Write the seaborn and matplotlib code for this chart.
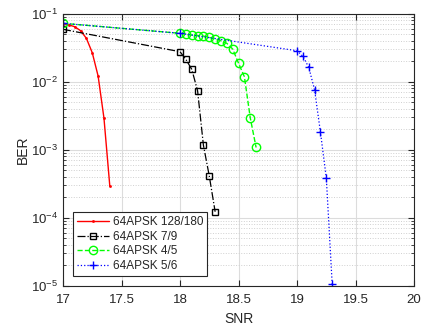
import matplotlib
matplotlib.use("Agg")
import matplotlib.pyplot as plt
import seaborn as sns
import pandas as pd
import numpy as np
from matplotlib.ticker import LogLocator, NullFormatter

sns.set_style("ticks")
plt.rcParams['font.family'] = ['Liberation Sans', 'DejaVu Sans']
plt.rcParams['mathtext.fontset'] = 'custom'
plt.rcParams['mathtext.rm'] = 'Liberation Sans'
plt.rcParams['mathtext.it'] = 'Liberation Sans'

# data
snr_128_180 = [17.0, 17.05, 17.1, 17.15, 17.2, 17.25, 17.3, 17.35, 17.4]
ber_128_180 = [0.070, 0.068, 0.064, 0.056, 0.0432, 0.0266, 0.0121, 0.00292, 0.000293]

snr_7_9 = [17.0, 18.0, 18.05, 18.1, 18.15, 18.2, 18.25, 18.3]
ber_7_9 = [0.0586, 0.0275, 0.0212, 0.0152, 0.00735, 0.00116, 0.000411, 0.000123]

snr_4_5 = [17.0, 18.0, 18.05, 18.1, 18.15, 18.2, 18.25, 18.3, 18.35, 18.4, 18.45,
           18.5, 18.55, 18.6, 18.65]
ber_4_5 = [0.0718, 0.0512, 0.0495, 0.0483, 0.0472, 0.0467, 0.0447, 0.0422, 0.0398,
           0.0365, 0.0301, 0.0186, 0.0118, 0.00295, 0.00108]

snr_5_6 = [17.0, 18.0, 19.0, 19.05, 19.1, 19.15, 19.2, 19.25, 19.3]
ber_5_6 = [0.0718, 0.0512, 0.0284, 0.0235, 0.0162, 0.00753, 0.0018, 0.000384, 0.0000108]

labels = ["64APSK 128/180", "64APSK 7/9", "64APSK 4/5", "64APSK 5/6"]
x_ticks = [17, 17.5, 18, 18.5, 19, 19.5, 20]
x_ticklabels = ["17", "17.5", "18", "18.5", "19", "19.5", "20"]

series = [
    (snr_128_180, ber_128_180, labels[0], "-",
     dict(color="#ff0000", marker=".", markersize=3, markeredgecolor="#ff0000",
          markerfacecolor="#ff0000", markeredgewidth=0.5, lw=1.0)),
    (snr_7_9, ber_7_9, labels[1], "-.",
     dict(color="#000000", marker="s", markersize=5, markerfacecolor="none",
          markeredgecolor="black", markeredgewidth=1.0, lw=0.9)),
    (snr_4_5, ber_4_5, labels[2], "--",
     dict(color="#00ff00", marker="o", markersize=6, markerfacecolor="none",
          markeredgecolor="#00ff00", markeredgewidth=1.0, lw=1.0)),
    (snr_5_6, ber_5_6, labels[3], ":",
     dict(color="#0000ff", marker="+", markersize=6, markeredgecolor="#0000ff",
          markeredgewidth=1.0, lw=0.9)),
]

fig = plt.figure(figsize=(4.3, 3.32), dpi=100)
ax = fig.add_axes([0.1465, 0.1386, 0.8165, 0.8207])

for xs, ys, lab, ls, kw in series:
    df = pd.DataFrame({"SNR": xs, "BER": ys})
    sns.lineplot(data=df, x="SNR", y="BER", ax=ax, label=lab, sort=False,
                 estimator=None, **kw)
    ax.lines[-1].set_linestyle(ls)

ax.set_yscale("log")
ax.set_xlim(17, 20)
ax.set_ylim(1e-5, 1e-1)
ax.set_xticks(x_ticks)
ax.set_xticklabels(x_ticklabels)
ax.yaxis.set_major_locator(LogLocator(base=10, numticks=10))
ax.yaxis.set_minor_locator(LogLocator(base=10, subs=np.arange(2, 10), numticks=50))
ax.yaxis.set_minor_formatter(NullFormatter())

ax.grid(True, which="major", color="#dcdcdc", linestyle="-", linewidth=0.8)
ax.grid(True, which="minor", axis="y", color="#d0d0d0", linestyle=":", linewidth=0.7)
ax.set_axisbelow(True)

for s in ax.spines.values():
    s.set_visible(True)
    s.set_color("#262626")
    s.set_linewidth(0.8)

ax.tick_params(which="both", direction="in", top=True, right=True, colors="#262626",
               labelsize=9.5, labelcolor="#262626")
ax.tick_params(which="major", length=4)
ax.tick_params(which="minor", length=2)
ax.tick_params(axis="x", pad=6)

ax.set_xlabel("SNR", fontsize=10, color="#262626", labelpad=4)
ax.set_ylabel("BER", fontsize=10, color="#262626", labelpad=1)

leg = ax.legend(loc="lower left", bbox_to_anchor=(0.0285, 0.0367), fontsize=8.5,
                frameon=True, fancybox=False, edgecolor="#262626", framealpha=1,
                handlelength=2.7, borderpad=0.35, labelspacing=0.22, handletextpad=0.3,
                borderaxespad=0, numpoints=1)
leg.get_frame().set_linewidth(0.8)

fig.savefig("out.png", dpi=100)
